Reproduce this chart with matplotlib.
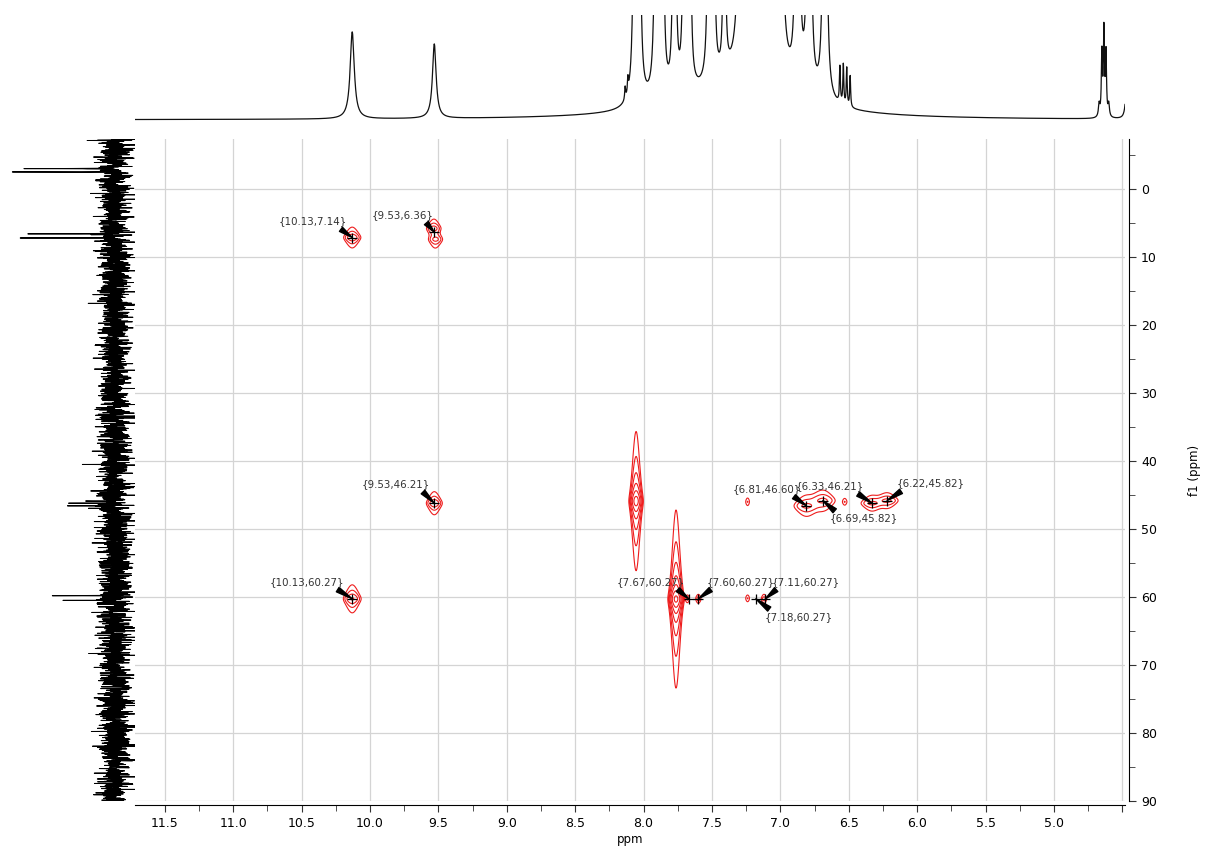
import numpy as np
import matplotlib.pyplot as plt
from matplotlib.ticker import MultipleLocator, FixedLocator, FixedFormatter

# 1H trace along the top (f2): position (ppm), height, half width
h_ppm = [10.13, 9.53, 8.135, 8.115, 8.06, 8.035, 7.905, 7.865, 7.775, 7.70, 7.665,
         7.52, 7.49, 7.41, 7.28, 7.235, 7.19, 7.145, 7.10, 7.055, 7.01,
         6.875, 6.79, 6.675, 6.565, 6.54, 6.515, 6.49,
         4.67, 4.65, 4.635, 4.62, 4.60, 4.47, 7.3]
h_height = [0.83, 0.71, 0.12, 0.14, 12, 8, 12, 8, 8, 8, 6,
            8, 5, 4, 20, 20, 20, 20, 20, 20, 20,
            15, 15, 15, 0.35, 0.38, 0.36, 0.30,
            0.12, 0.6, 0.82, 0.6, 0.12, 0.3, 0.3]
h_width = [0.018, 0.016, 0.004, 0.004, 0.006, 0.006, 0.006, 0.006, 0.006, 0.006, 0.006,
           0.006, 0.006, 0.006, 0.007, 0.007, 0.007, 0.007, 0.007, 0.007, 0.007,
           0.006, 0.006, 0.006, 0.004, 0.004, 0.004, 0.004,
           0.006, 0.0045, 0.0045, 0.0045, 0.006, 0.01, 0.45]

# 13C trace on the left (f1): position (ppm), intensity
c_ppm = [-3.0, -2.5, 6.6, 7.2, 45.9, 46.2, 46.6, 59.8, 60.5]
c_height = [4.15, 5.25, 4.2, 5.25, 1.9, 2.4, 1.9, 2.6, 2.8]

# cross peaks: f2, f1, amplitude, f2 width, f1 half width
pk_f2 = [10.13, 9.535, 9.52, 9.53, 10.13, 8.055, 7.763, 7.68, 7.60, 7.24, 7.12,
         7.24, 6.81, 6.69, 6.53, 6.33, 6.22]
pk_f1 = [7.14, 5.8, 7.4, 46.21, 60.27, 45.9, 60.3, 60.27, 60.27, 60.2, 60.27,
         46.0, 46.6, 45.82, 46.0, 46.21, 45.82]
pk_amp = [0.05, 0.035, 0.03, 0.05, 0.06, 0.5, 1.0, 0.012, 0.015, 0.01, 0.015,
          0.01, 0.03, 0.03, 0.01, 0.03, 0.03]
pk_sx = [0.028, 0.025, 0.025, 0.026, 0.028, 0.017, 0.018, 0.01, 0.012, 0.01, 0.012,
         0.01, 0.045, 0.045, 0.012, 0.04, 0.04]
pk_gy = [0.45, 0.45, 0.45, 0.5, 0.55, 0.92, 0.83, 0.4, 0.4, 0.4, 0.4,
         0.45, 0.6, 0.6, 0.4, 0.45, 0.45]

# picked peaks and where their labels sit (offset in pixels)
lab_f2 = [10.13, 9.53, 9.53, 10.13, 7.67, 7.60, 7.11, 7.18, 6.81, 6.33, 6.69, 6.22]
lab_f1 = [7.14, 6.36, 46.21, 60.27, 60.27, 60.27, 60.27, 60.27, 46.60, 46.21, 45.82, 45.82]
lab_dx = [-39, -32, -38, -45, -38, 42, 40, 43, -40, -42, 41, 44]
lab_dy = [16, 17, 19, 17, 17, 17, 17, -18, 17, 17, -18, 17]

XLIM = (11.718, 4.481)
YLIM = (90.0, -7.35)

W, H = 1205, 849
fig = plt.figure(figsize=(W / 100, H / 100), dpi=100)


def box(x0, y0, x1, y1):
    return [x0 / W, 1 - y1 / H, (x1 - x0) / W, (y1 - y0) / H]


ax = fig.add_axes(box(135, 139, 1125, 801))
ax_top = fig.add_axes(box(135, 15, 1125, 122))
ax_left = fig.add_axes(box(0, 139, 135, 801))

# 2D contours
gx = np.linspace(XLIM[1], XLIM[0], 2600)
gy = np.linspace(YLIM[1], YLIM[0], 1100)
X, Y = np.meshgrid(gx, gy)
Z = np.zeros_like(X)
for x0, y0, a, sx, wy in zip(pk_f2, pk_f1, pk_amp, pk_sx, pk_gy):
    Z += a * np.exp(-0.5 * ((X - x0) / sx) ** 2) / (1 + ((Y - y0) / wy) ** 2)
levels = 0.004 * 2.4 ** np.arange(8)
ax.contour(X, Y, Z, levels=levels, colors="#ee1c1c", linewidths=0.8)

for x0, y0, dx, dy in zip(lab_f2, lab_f1, lab_dx, lab_dy):
    ax.plot(x0, y0, "+", color="black", ms=7, mew=0.9)
    # arrow leaves from the text corner nearest the peak
    rel = (0.85 if dx < 0 else 0.12, 0 if dy > 0 else 1)
    ax.annotate("{%.2f,%.2f}" % (x0, y0), xy=(x0, y0), xytext=(dx, dy),
                textcoords="offset pixels", ha="center", va="center",
                fontsize=7.4, color="#333333",
                arrowprops=dict(arrowstyle="wedge,tail_width=0.5,shrink_factor=0.5",
                                color="black", relpos=rel, shrinkA=0, shrinkB=0))

ax.set_xlim(*XLIM)
ax.set_ylim(*YLIM)
ax.xaxis.set_major_locator(FixedLocator(np.arange(11.5, 4.4, -0.5)))
ax.xaxis.set_major_formatter(FixedFormatter(
    ["%.1f" % v for v in np.arange(11.5, 4.9, -0.5)] + [""]))
ax.xaxis.set_minor_locator(MultipleLocator(0.25))
ax.yaxis.set_major_locator(MultipleLocator(10))
ax.yaxis.set_minor_locator(MultipleLocator(5))
ax.yaxis.tick_right()
ax.yaxis.set_label_position("right")
ax.grid(True, which="major", color="#d4d4d4", lw=0.9)
ax.set_axisbelow(True)
for s in ("left", "top"):
    ax.spines[s].set_visible(False)
ax.spines["right"].set_position(("outward", 3))
ax.spines["bottom"].set_position(("outward", 3))
ax.tick_params(which="both", direction="out", labelsize=9, color="#333333")
ax.tick_params(which="major", length=5)
ax.tick_params(which="minor", length=4)
ax.set_xlabel("ppm", fontsize=8.5, labelpad=2)
ax.set_ylabel("f1 (ppm)", fontsize=8.5, labelpad=22)

# 1H trace
xs = np.linspace(XLIM[1], XLIM[0], 6000)
spec = np.zeros_like(xs)
for p, h, w in zip(h_ppm, h_height, h_width):
    spec += h * w ** 2 / ((xs - p) ** 2 + w ** 2)
ax_top.plot(xs, spec, color="#111111", lw=0.9)
ax_top.set_xlim(*XLIM)
ax_top.set_ylim(-0.02, 1.0)
ax_top.axis("off")

# 13C trace with its noise floor
ys = np.linspace(YLIM[1], YLIM[0], 4000)
rng = np.random.default_rng(3)
trace = rng.normal(0, 0.42, ys.size)
for p, h in zip(c_ppm, c_height):
    trace += h * 0.02 ** 2 / ((ys - p) ** 2 + 0.02 ** 2)
ax_left.plot(trace, ys, color="black", lw=0.7)
ax_left.set_xlim(5.75, -1.0)
ax_left.set_ylim(*YLIM)
ax_left.axis("off")

fig.savefig("out.png", dpi=100)
